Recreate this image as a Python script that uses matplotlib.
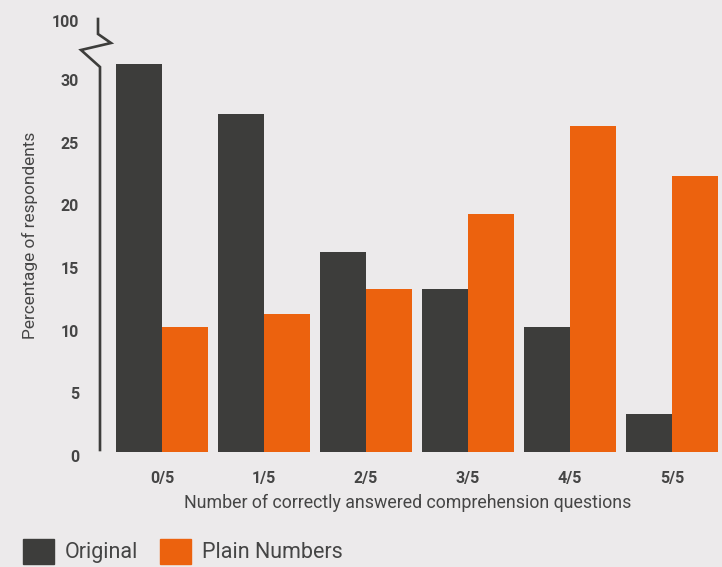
import matplotlib.pyplot as plt
import numpy as np
from matplotlib.patches import Patch
from matplotlib.transforms import ScaledTranslation

plt.rcParams['font.family'] = ['Roboto', 'DejaVu Sans']

categories = ['0/5', '1/5', '2/5', '3/5', '4/5', '5/5']
original = [31, 27, 16, 13, 10, 3]
plain_numbers = [10, 11, 13, 19, 26, 22]
ytick_values = [0, 5, 10, 15, 20, 25, 30]

bg = '#ECEAEB'
dark = '#3D3D3B'
orange = '#EC620E'
text_c = '#454545'

fig = plt.figure(figsize=(7.22, 5.67), dpi=100, facecolor=bg)
ax = fig.add_axes([100 / 722, 115 / 567, 622 / 722, 452 / 567])
ax.set_facecolor(bg)

x = np.arange(len(categories))
w = 0.455
ax.bar(x - w / 2, original, w, color=dark, label='Original')
ax.bar(x + w / 2, plain_numbers, w, color=orange, label='Plain Numbers')

px = 102.0  # pixels per category
ax.set_xlim(-62 / px, 5 + 50 / px)
ppu = 12.53  # pixels per percent
ax.set_ylim(0, 452 / ppu)

for s in ax.spines.values():
    s.set_visible(False)

# broken y axis line with a zigzag above 30
def to_data(xp, yp):
    return -62 / px + (xp - 100) / px, (452 - yp) / ppu

pts = [(100, 450), (100, 67), (81, 50), (111, 43), (98, 34), (98, 19)]
xs, ys = zip(*[to_data(a, b) for a, b in pts])
ax.plot(xs, ys, color=dark, lw=1.9, clip_on=False, solid_joinstyle='miter')

top_tick = (452 - 17) / ppu
ax.set_yticks(ytick_values + [top_tick])
ax.set_yticklabels([str(v) for v in ytick_values] + ['100'])
ax.tick_params(axis='y', length=0, pad=15, labelsize=11.5, labelcolor=text_c)
for lab in ax.get_yticklabels():
    lab.set_fontweight('bold')
    lab.set_transform(lab.get_transform() + ScaledTranslation(0, -4 / 100, fig.dpi_scale_trans))

ax.set_xticks(x)
ax.set_xticklabels(categories, fontweight='bold')
ax.tick_params(axis='x', length=0, pad=14, labelsize=11.5, labelcolor=text_c)

fig.text(408 / 722, 1 - 503 / 567, 'Number of correctly answered comprehension questions',
         ha='center', va='center', fontsize=12.75, color=text_c)
fig.text(30 / 722, 1 - 235 / 567, 'Percentage of respondents', rotation=90,
         ha='center', va='center', fontsize=12.4, color=text_c)

handles = [Patch(color=dark, label='Original'), Patch(color=orange, label='Plain Numbers')]
fig.legend(handles=handles, loc='lower left', bbox_to_anchor=(23 / 722, 3 / 567),
           ncol=2, frameon=False, fontsize=15.5,
           handlelength=1.44, handleheight=1.44,
           handletextpad=0.51, columnspacing=1.02, borderpad=0, borderaxespad=0,
           labelcolor=text_c)

fig.savefig('out.png', dpi=100, facecolor=bg)
